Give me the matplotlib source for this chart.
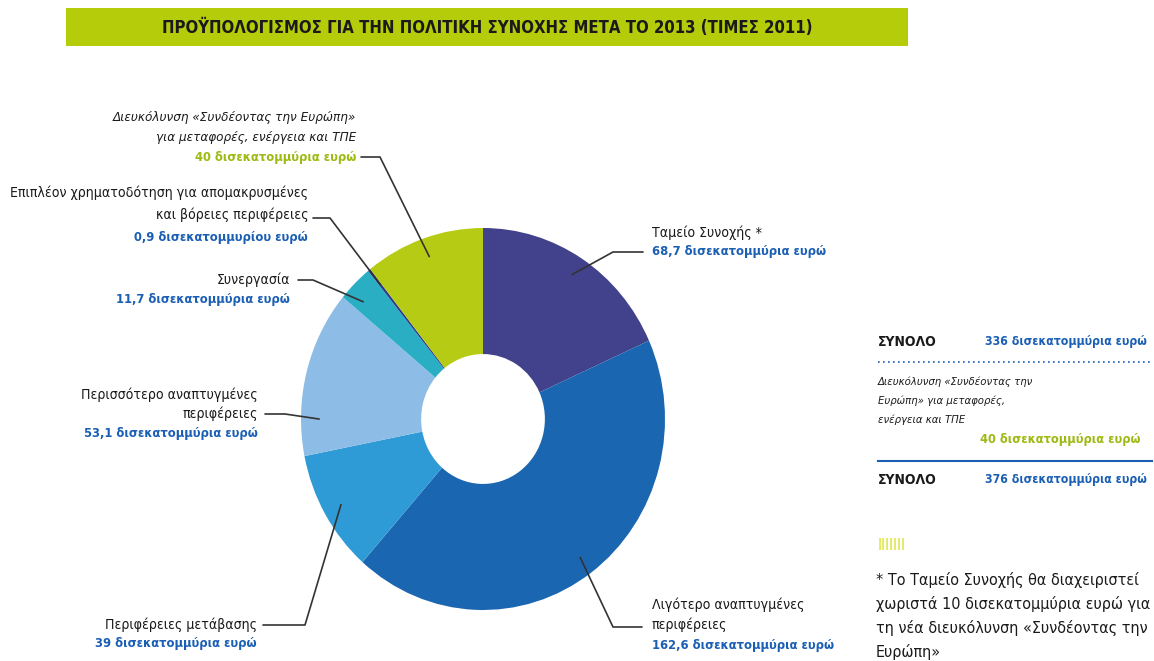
import numpy as np
import matplotlib
matplotlib.use('Agg')
import matplotlib.pyplot as plt
from matplotlib import font_manager

plt.rcParams['font.family'] = ['DejaVu Sans']

# Αν υπάρχει η στενή παραλλαγή της DejaVu, τη χρησιμοποιούμε
στενή = any('Condensed' in f.fname and 'DejaVu' in f.fname for f in font_manager.fontManager.ttflist)
STRETCH = 'condensed' if στενή else 'normal'
κλ = 1.0 if στενή else 0.88   # κλίμακα μεγέθους γραμματοσειράς

# Δεδομένα (δισεκατομμύρια ευρώ, τιμές 2011), δεξιόστροφα από πάνω
κατηγορίες = [
    'Ταμείο Συνοχής *',
    'Λιγότερο αναπτυγμένες\nπεριφέρειες',
    'Περιφέρειες μετάβασης',
    'Περισσότερο αναπτυγμένες\nπεριφέρειες',
    'Συνεργασία',
    'Επιπλέον χρηματοδότηση για απομακρυσμένες\nκαι βόρειες περιφέρειες',
    'Διευκόλυνση «Συνδέοντας την Ευρώπη»\nγια μεταφορές, ενέργεια και ΤΠΕ',
]
τιμές = [68.7, 162.6, 39.0, 53.1, 11.7, 0.9, 40.0]
ετικέτες_τιμών = [
    '68,7 δισεκατομμύρια ευρώ',
    '162,6 δισεκατομμύρια ευρώ',
    '39 δισεκατομμύρια ευρώ',
    '53,1 δισεκατομμύρια ευρώ',
    '11,7 δισεκατομμύρια ευρώ',
    '0,9 δισεκατομμυρίου ευρώ',
    '40 δισεκατομμύρια ευρώ',
]
χρώματα = ['#41418c', '#1a66b0', '#2e9bd6', '#8dbce6', '#2aaec4', '#2b3a8a', '#b6cc14']

σύνολο_χωρίς = 336
σύνολο_με = 376

W, H = 1154, 661
ΜΠΛΕ = '#1a5fb4'
ΛΑΙΜ = '#9cba12'
ΜΑΥΡΟ = '#1a1a1a'

fig = plt.figure(figsize=(W / 100, H / 100), dpi=100)

# Πλαίσιο πίτας σε pixel (αριστερά, πάνω, δεξιά, κάτω)
L, T, R, B = 301, 228, 665, 610
cx, cy = (L + R) / 2, (T + B) / 2
rx, ry = (R - L) / 2, (B - T) / 2

ax = fig.add_axes([L / W, 1 - B / H, (R - L) / W, (B - T) / H])
ax.pie(τιμές, colors=χρώματα, startangle=90, counterclock=False, radius=1,
       wedgeprops=dict(width=0.66, linewidth=0))
ax.set_aspect('auto')
ax.set_xlim(-1, 1)
ax.set_ylim(-1, 1)
ax.axis('off')

# Επικάλυψη σε συντεταγμένες pixel
ov = fig.add_axes([0, 0, 1, 1])
ov.set_xlim(0, W)
ov.set_ylim(H, 0)
ov.axis('off')


def κείμενο(x, y, s, size, **kw):
    ov.text(x, y, s, va='center', fontsize=size * κλ, fontstretch=STRETCH, **kw)


# Τίτλος σε πράσινη ταινία
ov.add_patch(plt.Rectangle((66, 8), 842, 38, color='#b5cc0a', lw=0))
κείμενο(487, 28, 'ΠΡΟΫΠΟΛΟΓΙΣΜΟΣ ΓΙΑ ΤΗΝ ΠΟΛΙΤΙΚΗ ΣΥΝΟΧΗΣ ΜΕΤΑ ΤΟ 2013 (ΤΙΜΕΣ 2011)',
        12, ha='center', fontweight='bold', color=ΜΑΥΡΟ)

# Αρχή κάθε τομέα (δεξιόστροφα) και θέση του σημείου σύνδεσης μέσα στον τομέα
σύνολο = sum(τιμές)
αθρ = np.cumsum([0] + τιμές[:-1])
κλάσμα = [0.5, 0.5, 0.5, 0.22, 0.3, 0.5, 0.5]
γωνίες = [90 - (a + f * v) / σύνολο * 360 for a, v, f in zip(αθρ, τιμές, κλάσμα)]

# Διάταξη: (x κειμένου, y 1ης γραμμής, βήμα, στοίχιση, αρχή γραμμής x, y, οριζόντιο μήκος)
διάταξη = [
    (652, 233, 19, 'left', 643, 252, -30),
    (652, 605, 20, 'left', 642, 627, -29),
    (257, 625, 19, 'right', 263, 625, 42),
    (258, 395, 19, 'right', 265, 414, 20),
    (290, 280, 20, 'right', 298, 280, 15),
    (308, 193, 22, 'right', 313, 218, 17),
    (356, 118, 20, 'right', 361, 157, 19),
]

for i, (ον, τιμ, (tx, ty, st, ha, lx, ly, ln)) in enumerate(zip(κατηγορίες, ετικέτες_τιμών, διάταξη)):
    γραμμές = ον.split('\n')
    πλάγια = i == 6
    for k, g in enumerate(γραμμές):
        κείμενο(tx, ty + k * st, g, 9.6 if πλάγια else 10.1, ha=ha, color=ΜΑΥΡΟ,
                style='italic' if πλάγια else 'normal')
    κείμενο(tx, ty + len(γραμμές) * st, τιμ, 9.3, ha=ha,
            fontweight='bold', color=ΛΑΙΜ if i == 6 else ΜΠΛΕ)
    θ = np.deg2rad(γωνίες[i])
    r = 0.9
    axp = cx + rx * r * np.cos(θ)
    ayp = cy - ry * r * np.sin(θ)
    ov.plot([lx, lx + ln, axp], [ly, ly, ayp], color='#333333', lw=1.2,
            solid_capstyle='round')

# Δεξί πλαίσιο συνόλων
κείμενο(878, 342, 'ΣΥΝΟΛΟ', 10, ha='left', fontweight='bold', color=ΜΑΥΡΟ)
κείμενο(985, 342, f'{σύνολο_χωρίς} δισεκατομμύρια ευρώ', 8.8, ha='left',
        fontweight='bold', color=ΜΠΛΕ)
ov.plot([878, 1152], [362, 362], color=ΜΠΛΕ, lw=1.2, ls=(0, (1, 2)))
for k, g in enumerate(['Διευκόλυνση «Συνδέοντας την', 'Ευρώπη» για μεταφορές,', 'ενέργεια και ΤΠΕ']):
    κείμενο(878, 382 + k * 19, g, 8.1, ha='left', style='italic', color=ΜΑΥΡΟ)
κείμενο(980, 440, ετικέτες_τιμών[6], 9.2, ha='left', fontweight='bold', color=ΛΑΙΜ)
ov.plot([878, 1152], [461, 461], color=ΜΠΛΕ, lw=1.5)
κείμενο(878, 480, 'ΣΥΝΟΛΟ', 10, ha='left', fontweight='bold', color=ΜΑΥΡΟ)
κείμενο(985, 480, f'{σύνολο_με} δισεκατομμύρια ευρώ', 8.8, ha='left',
        fontweight='bold', color=ΜΠΛΕ)

# Διακοσμητικές γραμμές και υποσημείωση
κείμενο(878, 545, 'IIIIIII', 11, ha='left', color='#d6e21a')
υποσημείωση = ['* Το Ταμείο Συνοχής θα διαχειριστεί',
               'χωριστά 10 δισεκατομμύρια ευρώ για',
               'τη νέα διευκόλυνση «Συνδέοντας την',
               'Ευρώπη»']
for k, g in enumerate(υποσημείωση):
    κείμενο(876, 580 + k * 24, g, 11.5, ha='left', color=ΜΑΥΡΟ)

fig.savefig('out.png', dpi=100)
